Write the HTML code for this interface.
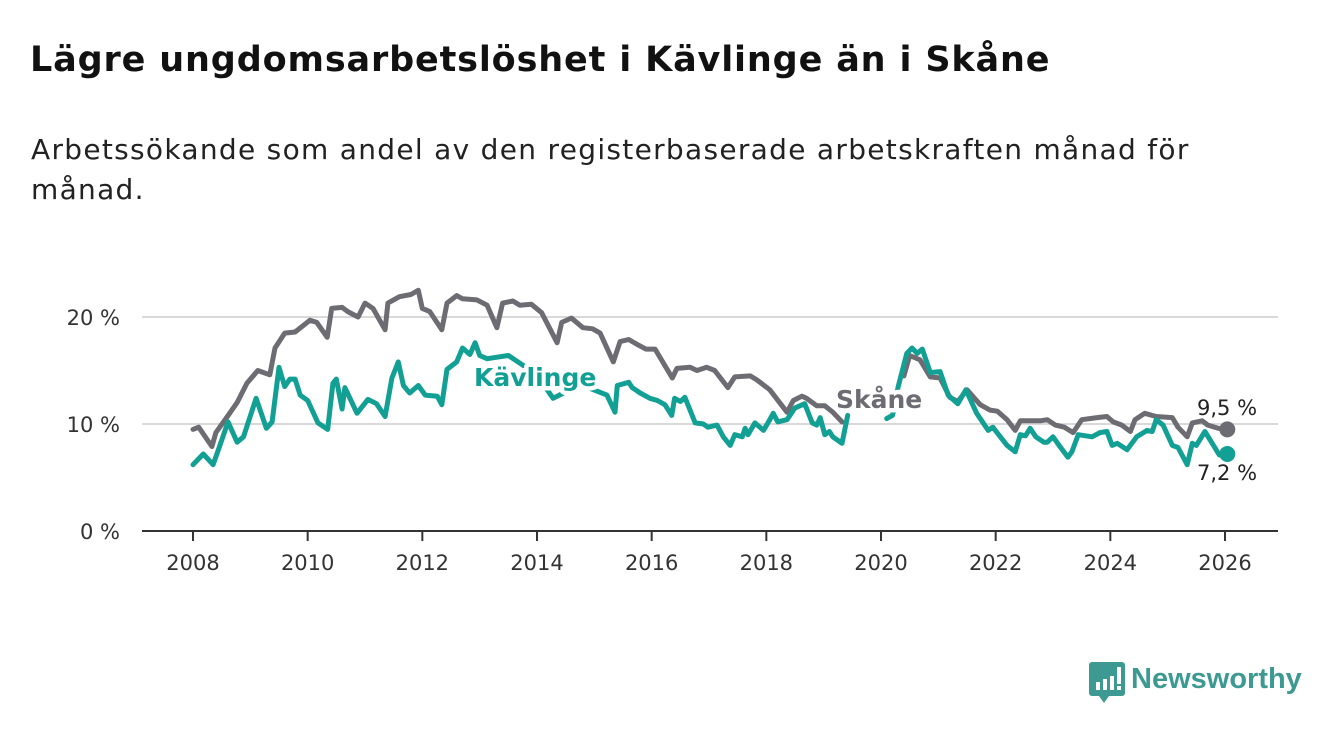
<!DOCTYPE html>
<html><head><meta charset="utf-8">
<style>
body{margin:0;width:1340px;height:734px;background:#fff;font-family:"DejaVu Sans",sans-serif;overflow:hidden;position:relative}
h1{position:absolute;left:30px;top:40px;margin:0;font-size:35px;font-weight:bold;color:#111;letter-spacing:0.85px;white-space:nowrap}
p{position:absolute;left:31px;top:130px;margin:0;font-size:28px;line-height:40px;color:#222;width:1250px;letter-spacing:1.3px;white-space:nowrap}
svg{position:absolute;left:0;top:0}
</style></head><body>
<h1>Lägre ungdomsarbetslöshet i Kävlinge än i Skåne</h1>
<p>Arbetssökande som andel av den registerbaserade arbetskraften månad för<br>månad.</p>
<svg id="chart" width="1340" height="734"></svg>
<div style="position:absolute;left:1089px;top:662px;display:flex;align-items:center">
<svg width="36" height="42" style="position:static"><rect x="0" y="0" width="36" height="34" rx="3" fill="#3d9a92"/><polygon points="10,34 20,34 15,41" fill="#3d9a92"/><rect x="7" y="20" width="4" height="8" fill="#fff"/><rect x="14" y="17" width="4" height="11" fill="#fff"/><rect x="21" y="14" width="4" height="14" fill="#fff"/><rect x="28" y="5" width="4" height="17" fill="#fff"/><rect x="28" y="24" width="4" height="4" fill="#fff"/></svg>
<span style="font-size:29px;font-family:'Liberation Sans',sans-serif;font-weight:bold;color:#3d9a92;margin-left:6px;margin-top:-8px">Newsworthy</span></div>
<script>
const yTicks=[0,10,20];
const xTicks=[2008,2010,2012,2014,2016,2018,2020,2022,2024,2026];
const skaneYears=[2008,2008.1,2008.33,2008.4,2008.6,2008.77,2008.94,2009.13,2009.34,2009.43,2009.6,2009.78,2010.04,2010.16,2010.34,2010.42,2010.6,2010.7,2010.88,2011,2011.14,2011.35,2011.4,2011.6,2011.8,2011.93,2012,2012.13,2012.34,2012.43,2012.6,2012.7,2012.95,2013.13,2013.3,2013.4,2013.58,2013.7,2013.9,2014.08,2014.35,2014.43,2014.6,2014.8,2014.97,2015.1,2015.33,2015.45,2015.6,2015.76,2015.9,2016.06,2016.36,2016.44,2016.67,2016.79,2016.96,2017.1,2017.33,2017.45,2017.72,2017.84,2018.06,2018.36,2018.47,2018.62,2018.7,2018.88,2019.02,2019.16,2019.32,2020.4,2020.5,2020.68,2020.86,2021.03,2021.2,2021.34,2021.5,2021.73,2021.9,2022.03,2022.2,2022.34,2022.43,2022.78,2022.9,2023.04,2023.2,2023.35,2023.5,2023.77,2023.94,2024.05,2024.2,2024.35,2024.43,2024.6,2024.8,2025.08,2025.18,2025.34,2025.43,2025.6,2025.7,2025.88,2026.04];
const skaneValues=[9.5,9.7,7.9,9.2,10.7,12.0,13.8,15.0,14.6,17.1,18.5,18.6,19.7,19.5,18.1,20.8,20.9,20.5,20.0,21.3,20.8,18.8,21.3,21.9,22.1,22.5,20.8,20.5,18.8,21.3,22.0,21.7,21.6,21.1,19.0,21.3,21.5,21.1,21.2,20.4,17.6,19.5,19.9,19.0,18.9,18.5,15.8,17.7,17.9,17.4,17.0,17.0,14.3,15.2,15.3,15.0,15.3,15.0,13.4,14.4,14.5,14.1,13.2,11.1,12.2,12.6,12.4,11.7,11.7,11.1,10.2,14.5,16.4,16.0,14.4,14.3,12.5,12.1,13.2,11.8,11.3,11.2,10.4,9.4,10.3,10.3,10.4,9.9,9.7,9.2,10.4,10.6,10.7,10.2,9.9,9.3,10.4,11.0,10.7,10.6,9.7,8.8,10.1,10.3,9.9,9.6,9.5];
const kavYears=[2008,2008.18,2008.35,2008.47,2008.61,2008.77,2008.88,2009.1,2009.28,2009.38,2009.5,2009.6,2009.69,2009.78,2009.87,2010,2010.18,2010.35,2010.44,2010.5,2010.6,2010.65,2010.86,2011.05,2011.2,2011.35,2011.47,2011.58,2011.67,2011.78,2011.93,2012.05,2012.26,2012.34,2012.43,2012.6,2012.7,2012.83,2012.92,2013,2013.13,2013.5,2013.75,2013.95,2014.1,2014.28,2014.5,2014.8,2015.22,2015.36,2015.4,2015.6,2015.66,2015.8,2015.97,2016.1,2016.23,2016.35,2016.4,2016.5,2016.58,2016.76,2016.9,2016.98,2017.14,2017.25,2017.37,2017.45,2017.58,2017.63,2017.68,2017.8,2017.95,2018.06,2018.12,2018.2,2018.36,2018.5,2018.67,2018.8,2018.88,2018.94,2019.02,2019.1,2019.16,2019.32,2019.42,2020.1,2020.2,2020.3,2020.45,2020.54,2020.63,2020.72,2020.86,2021.03,2021.17,2021.34,2021.48,2021.67,2021.87,2021.95,2022.2,2022.34,2022.43,2022.52,2022.6,2022.7,2022.84,2022.9,2023,2023.12,2023.26,2023.33,2023.44,2023.68,2023.82,2023.94,2024.03,2024.12,2024.29,2024.46,2024.64,2024.73,2024.8,2024.92,2025.08,2025.18,2025.34,2025.43,2025.5,2025.65,2025.8,2025.9,2026.04];
const kavValues=[6.2,7.2,6.2,8.0,10.2,8.3,8.8,12.4,9.6,10.2,15.3,13.5,14.2,14.2,12.7,12.2,10.1,9.5,13.8,14.2,11.4,13.4,11.0,12.3,11.9,10.7,14.3,15.8,13.6,12.9,13.6,12.7,12.6,11.8,15.1,15.8,17.1,16.5,17.6,16.4,16.1,16.4,15.5,14.8,13.8,12.4,13.0,13.6,12.7,11.1,13.6,13.9,13.4,12.9,12.4,12.2,11.8,10.8,12.4,12.1,12.5,10.1,10.0,9.7,9.9,8.8,8.0,9.0,8.8,9.6,9.0,10.1,9.4,10.4,11.0,10.2,10.4,11.5,11.9,10.1,9.9,10.6,9.0,9.3,8.8,8.2,10.8,10.5,10.8,13.5,16.6,17.1,16.6,17.0,14.8,14.9,12.7,11.9,13.2,11.0,9.4,9.7,8.0,7.4,9.0,8.9,9.6,8.8,8.3,8.3,8.8,7.9,6.9,7.4,9.0,8.8,9.2,9.3,8.0,8.2,7.6,8.8,9.4,9.3,10.4,9.9,8.0,7.8,6.2,8.2,8.0,9.3,8.0,7.1,7.2];

const NS="http://www.w3.org/2000/svg";
const svg=document.getElementById('chart');
const FONT='DejaVu Sans, sans-serif';
const x=v=>193+(v-2008)*(1225-193)/18;
const y=v=>531-v*10.7;
function mk(t,a,parent){const e=document.createElementNS(NS,t);for(const k in a)e.setAttribute(k,a[k]);(parent||svg).appendChild(e);return e;}
yTicks.forEach(t=>{
  if(t>0){const g=mk('line',{x1:142,x2:1278,y1:y(t),y2:y(t),stroke:'#d9d9d9','stroke-width':2});
  
  }
  const l=mk('text',{x:120,y:y(t)+8,'text-anchor':'end','font-size':21,fill:'#333','font-family':FONT});
  l.textContent=t+' %';
  
  
});
const ax=mk('line',{x1:142,x2:1278,y1:531,y2:531,stroke:'#333','stroke-width':2});


xTicks.forEach(t=>{
  const tk=mk('line',{x1:x(t),x2:x(t),y1:531,y2:541,stroke:'#333','stroke-width':2});
  
  
  const l=mk('text',{x:x(t),y:570,'text-anchor':'middle','font-size':21,fill:'#333','font-family':FONT});
  l.textContent=t;
  
  
});
function line(xs,vs,color,name){
  const d=xs.map((v,i)=>((i==0||v-xs[i-1]>0.5)?'M':'L')+x(v).toFixed(1)+','+y(vs[i]).toFixed(1)).join('');
  const p=mk('path',{d:d,fill:'none',stroke:color,'stroke-width':5,'stroke-linejoin':'round','stroke-linecap':'round'});
  
  
  const n=xs.length-1;
  const c=mk('circle',{cx:x(xs[n]),cy:y(vs[n]),r:8,fill:color});
  
  
}
line(skaneYears,skaneValues,'#6d6c72','skane-line');
line(kavYears,kavValues,'#12a095','kavlinge-line');
function lab(tx,xx,yy,color,name,bold,anchor){
  const t=mk('text',{x:xx,y:yy,'font-size':bold?25:21,'font-weight':bold?'bold':'normal',fill:color,'text-anchor':anchor||'start',stroke:'#fff','stroke-width':bold?9:5,'paint-order':'stroke','stroke-linejoin':'round','font-family':FONT});
  t.textContent=tx;
  
  
}
lab('Kävlinge',474,386,'#12a095','kavlinge-label',true);
lab('Skåne',836,408,'#6d6c72','skane-label',true);
lab('9,5 %',1197,415,'#222','skane-end-value',false);
lab('7,2 %',1197,480,'#222','kavlinge-end-value',false);
</script>
</body></html>
